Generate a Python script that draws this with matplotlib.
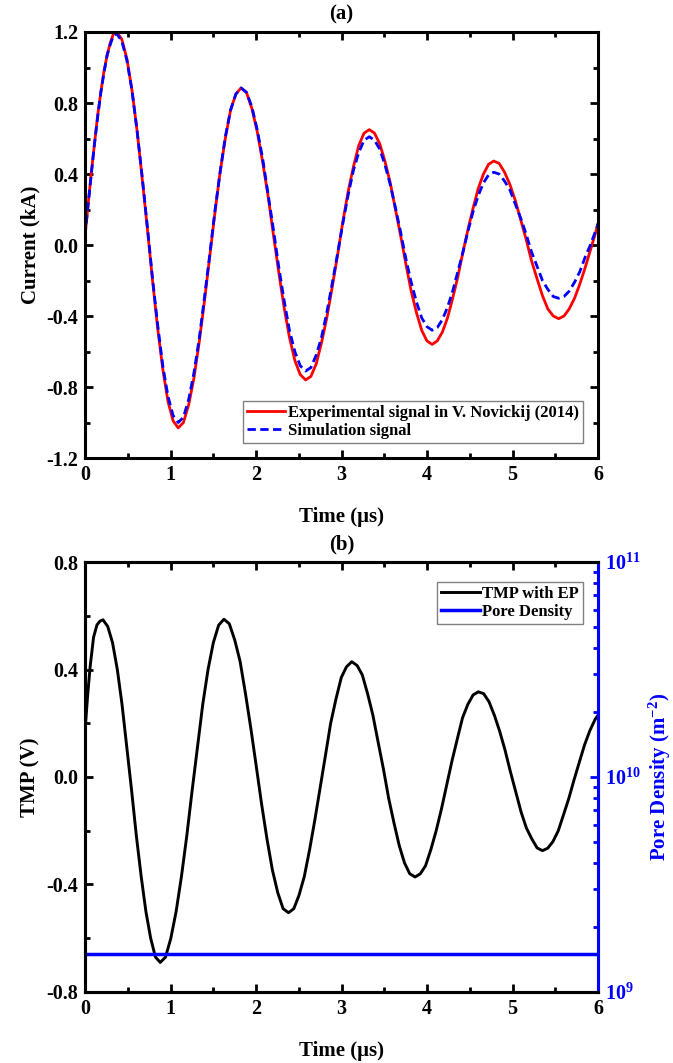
import numpy as np
import matplotlib.pyplot as plt
from matplotlib.ticker import MultipleLocator, LogLocator, FuncFormatter, NullFormatter

plt.rcParams['font.family'] = 'Liberation Serif'
plt.rcParams['font.weight'] = 'bold'
plt.rcParams['axes.unicode_minus'] = False
plt.rcParams['mathtext.fontset'] = 'custom'
plt.rcParams['mathtext.rm'] = 'Liberation Serif:bold'
plt.rcParams['mathtext.bf'] = 'Liberation Serif:bold'
plt.rcParams['mathtext.it'] = 'Liberation Serif:bold:italic'

# (a) current signals (time in us, current in kA)
t_a = [0.0, 0.037, 0.074, 0.111, 0.148, 0.185, 0.222, 0.259, 0.296, 0.333, 0.37,
       0.43, 0.49, 0.55, 0.61, 0.67, 0.73, 0.79, 0.85, 0.91, 0.97, 1.03, 1.09,
       1.151, 1.2125, 1.274, 1.335, 1.396, 1.4575, 1.519, 1.58, 1.641, 1.7025, 1.764, 1.825,
       1.888, 1.951, 2.014, 2.077, 2.140, 2.203, 2.265, 2.328, 2.391, 2.454, 2.517, 2.58,
       2.642, 2.704, 2.766, 2.828, 2.890, 2.953, 3.015, 3.077, 3.139, 3.201, 3.263, 3.325,
       3.386, 3.4475, 3.509, 3.57, 3.631, 3.6925, 3.754, 3.815, 3.876, 3.9375, 3.999, 4.06,
       4.12, 4.18, 4.24, 4.30, 4.36, 4.42, 4.48, 4.54, 4.60, 4.66, 4.72, 4.78,
       4.843, 4.907, 4.970, 5.033, 5.097, 5.16, 5.223, 5.287, 5.350, 5.413, 5.477, 5.54,
       5.602, 5.663, 5.725, 5.787, 5.848, 5.91, 5.972, 6.0]
i_exp = [0.05, 0.23, 0.41, 0.57, 0.73, 0.86, 0.98, 1.07, 1.14, 1.19, 1.20,
         1.16, 1.05, 0.87, 0.64, 0.37, 0.09, -0.20, -0.47, -0.70, -0.88, -0.99, -1.03,
         -1.00, -0.90, -0.75, -0.55, -0.32, -0.07, 0.18, 0.41, 0.60, 0.76, 0.85, 0.885,
         0.86, 0.77, 0.64, 0.47, 0.28, 0.06, -0.15, -0.35, -0.52, -0.65, -0.73, -0.76,
         -0.74, -0.67, -0.55, -0.41, -0.24, -0.06, 0.13, 0.30, 0.44, 0.56, 0.63, 0.65,
         0.63, 0.57, 0.47, 0.35, 0.20, 0.05, -0.11, -0.26, -0.38, -0.48, -0.54, -0.56,
         -0.54, -0.49, -0.41, -0.30, -0.18, -0.04, 0.09, 0.21, 0.32, 0.40, 0.455, 0.473,
         0.46, 0.41, 0.34, 0.25, 0.14, 0.03, -0.09, -0.19, -0.285, -0.36, -0.40, -0.415,
         -0.40, -0.36, -0.30, -0.22, -0.13, -0.03, 0.07, 0.12]
i_sim = [0.05, 0.23, 0.40, 0.57, 0.72, 0.86, 0.97, 1.07, 1.13, 1.18, 1.19,
         1.15, 1.04, 0.87, 0.64, 0.38, 0.10, -0.19, -0.45, -0.68, -0.85, -0.96, -1.00,
         -0.97, -0.87, -0.72, -0.53, -0.30, -0.06, 0.19, 0.41, 0.61, 0.76, 0.85, 0.885,
         0.86, 0.78, 0.65, 0.49, 0.29, 0.09, -0.12, -0.31, -0.48, -0.60, -0.68, -0.71,
         -0.69, -0.62, -0.52, -0.38, -0.22, -0.05, 0.12, 0.28, 0.42, 0.52, 0.59, 0.61,
         0.59, 0.54, 0.45, 0.34, 0.21, 0.07, -0.08, -0.21, -0.32, -0.41, -0.46, -0.48,
         -0.465, -0.42, -0.35, -0.26, -0.15, -0.04, 0.08, 0.19, 0.28, 0.35, 0.395, 0.41,
         0.40, 0.36, 0.31, 0.23, 0.15, 0.06, -0.04, -0.12, -0.20, -0.25, -0.29, -0.30,
         -0.29, -0.26, -0.21, -0.15, -0.07, 0.0, 0.08, 0.12]

# (b) transmembrane potential (V) and pore density (m^-2)
t_b = [0.0, 0.03, 0.06, 0.10, 0.14, 0.175, 0.21,
       0.266, 0.322, 0.378, 0.433, 0.489, 0.545, 0.601, 0.657, 0.712, 0.768, 0.824, 0.88,
       0.942, 1.004, 1.066, 1.128, 1.190, 1.253, 1.315, 1.377, 1.439, 1.501, 1.563, 1.625,
       1.688, 1.751, 1.814, 1.877, 1.940, 2.003, 2.065, 2.128, 2.191, 2.254, 2.317, 2.38,
       2.442, 2.503, 2.565, 2.627, 2.688, 2.75, 2.812, 2.873, 2.935, 2.997, 3.058, 3.12,
       3.182, 3.243, 3.305, 3.367, 3.428, 3.49, 3.552, 3.613, 3.675, 3.737, 3.798, 3.86,
       3.922, 3.983, 4.045, 4.107, 4.168, 4.23, 4.292, 4.353, 4.415, 4.477, 4.538, 4.60,
       4.6625, 4.725, 4.7875, 4.85, 4.9125, 4.975, 5.0375, 5.10, 5.1625, 5.225, 5.2875, 5.35,
       5.412, 5.473, 5.535, 5.597, 5.658, 5.72, 5.782, 5.843, 5.905, 5.967, 6.0]
v_tmp = [0.17, 0.30, 0.41, 0.52, 0.566, 0.58, 0.585,
         0.56, 0.50, 0.40, 0.27, 0.11, -0.05, -0.22, -0.37, -0.50, -0.60, -0.67, -0.69,
         -0.67, -0.60, -0.50, -0.37, -0.22, -0.05, 0.11, 0.27, 0.40, 0.50, 0.565, 0.587,
         0.57, 0.51, 0.43, 0.31, 0.18, 0.04, -0.10, -0.23, -0.345, -0.43, -0.49, -0.505,
         -0.49, -0.44, -0.37, -0.27, -0.16, -0.04, 0.08, 0.20, 0.29, 0.37, 0.41, 0.429,
         0.415, 0.38, 0.31, 0.23, 0.13, 0.03, -0.08, -0.17, -0.255, -0.32, -0.36, -0.372,
         -0.36, -0.33, -0.27, -0.20, -0.12, -0.03, 0.06, 0.14, 0.22, 0.27, 0.305, 0.317,
         0.31, 0.28, 0.23, 0.17, 0.10, 0.02, -0.055, -0.13, -0.19, -0.23, -0.264, -0.274,
         -0.265, -0.24, -0.20, -0.14, -0.08, -0.01, 0.056, 0.12, 0.173, 0.215, 0.23]

t_pore = [0.0, 6.0]
n_pore = [1.5e9, 1.5e9]

BLUE = '#0000ff'


def style(ax, ymaj, ymin):
    ax.set_xlim(0, 6)
    ax.xaxis.set_major_locator(MultipleLocator(1))
    ax.xaxis.set_minor_locator(MultipleLocator(0.5))
    ax.yaxis.set_major_locator(MultipleLocator(ymaj))
    ax.yaxis.set_minor_locator(MultipleLocator(ymin))
    ax.yaxis.set_major_formatter(FuncFormatter(lambda v, p: '%.1f' % v))
    ax.tick_params(which='both', direction='in', top=True, width=2, labelsize=14.5, pad=5)
    ax.tick_params(which='major', length=6)
    ax.tick_params(which='minor', length=3.5)
    for s in ax.spines.values():
        s.set_linewidth(2.2)


legend_kw = dict(fontsize=12, frameon=True, fancybox=False, edgecolor='#808080',
                 framealpha=1, handlelength=2.3, handletextpad=0.15, borderpad=0.25,
                 labelspacing=0.1, borderaxespad=0)

fig = plt.figure(figsize=(6.73, 10.63), dpi=100)
ax1 = fig.add_axes([0.1263, 0.5691, 0.7623, 0.4008])
ax2 = fig.add_axes([0.1263, 0.0668, 0.7623, 0.4045])

# top panel
ax1.plot(t_a, i_exp, color='red', lw=2.0, label='Experimental signal in V. Novickij (2014)')
ax1.plot(t_a, i_sim, color=BLUE, lw=2.0, dashes=(3, 1.6), label='Simulation signal')
ax1.set_ylim(-1.2, 1.2)
style(ax1, 0.4, 0.2)
ax1.tick_params(which='both', right=True)
ax1.set_xlabel('Time (μs)', fontsize=15, fontweight='bold', labelpad=16)
ax1.set_ylabel('Current (kA)', fontsize=15, fontweight='bold', labelpad=4)
ax1.set_title('(a)', fontsize=15, fontweight='bold', pad=9)
leg1 = ax1.legend(loc='lower right', bbox_to_anchor=(583 / 673, 1 - 443 / 1063),
                  bbox_transform=fig.transFigure, **legend_kw)
leg1.get_frame().set_linewidth(1.0)

# bottom panel
l1, = ax2.plot(t_b, v_tmp, color='black', lw=2.1, label='TMP with EP')
ax2.set_ylim(-0.8, 0.8)
style(ax2, 0.4, 0.2)
ax2.set_xlabel('Time (μs)', fontsize=15, fontweight='bold', labelpad=16)
ax2.set_ylabel('TMP (V)', fontsize=15, fontweight='bold', labelpad=4)
ax2.set_title('(b)', fontsize=15, fontweight='bold', pad=9)

ax3 = ax2.twinx()
l2, = ax3.plot(t_pore, n_pore, color=BLUE, lw=2.5, label='Pore Density')
ax3.set_yscale('log')
ax3.set_ylim(1e9, 1e11)
ax3.yaxis.set_major_locator(LogLocator(base=10, numticks=5))
ax3.yaxis.set_minor_locator(LogLocator(base=10, subs=np.arange(2, 10), numticks=20))
ax3.yaxis.set_major_formatter(FuncFormatter(lambda v, p: r'$\mathbf{10^{%d}}$' % round(np.log10(v))))
ax3.yaxis.set_minor_formatter(NullFormatter())
ax3.tick_params(axis='y', which='both', direction='in', colors=BLUE, width=2, labelsize=14.5, pad=5)
ax3.tick_params(axis='y', which='major', length=6)
ax3.tick_params(axis='y', which='minor', length=3.5)
for s in ax3.spines.values():
    s.set_linewidth(2.2)
ax3.spines['right'].set_color(BLUE)
ax3.set_ylabel('Pore Density (m$^{\\mathbf{-2}}$)', fontsize=15, fontweight='bold',
               color=BLUE, labelpad=4)

leg2 = ax3.legend([l1, l2], ['TMP with EP', 'Pore Density'], loc='upper right',
                  bbox_to_anchor=(583 / 673, 1 - 582 / 1063),
                  bbox_transform=fig.transFigure, **legend_kw)
leg2.get_frame().set_linewidth(1.0)

fig.savefig('out.png', dpi=100)
